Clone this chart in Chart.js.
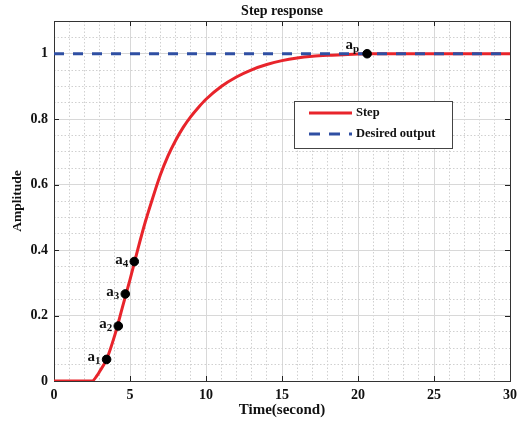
<!DOCTYPE html>
<html>
<head>
<meta charset="utf-8">
<script src="https://cdn.jsdelivr.net/npm/chart.js@4/dist/chart.umd.min.js"></script>
<style>
  html, body { margin: 0; padding: 0; background: #fff; }
  #wrap { width: 523px; height: 425px; position: relative; }
</style>
</head>
<body>
<div id="wrap"><canvas id="c" width="523" height="425"></canvas></div>
<script>
// ---- data ----
const stepTime = [0, 2.5, 2.85, 3.0, 3.46, 4.0, 4.5, 5.0, 5.5, 6.0, 6.5, 7.0, 7.5, 8.0, 8.5, 9.0, 9.5, 10, 11, 12, 13, 14, 15, 16, 17, 18, 19, 20, 20.6, 25, 30];
const stepAmp  = [0, 0, 0.018, 0.029, 0.066, 0.14, 0.225, 0.31, 0.4, 0.485, 0.56, 0.63, 0.688, 0.735, 0.775, 0.808, 0.836, 0.861, 0.9, 0.929, 0.951, 0.967, 0.979, 0.987, 0.992, 0.995, 0.997, 0.999, 1, 1, 1];
const desiredTime = [0, 30];
const desiredAmp  = [1, 1];
const markerTime = [3.46, 4.23, 4.69, 5.28, 20.6];
const markerAmp  = [0.066, 0.168, 0.266, 0.365, 1.0];
const markerSub  = ['1', '2', '3', '4', 'p'];
const xTickLabels = [0, 5, 10, 15, 20, 25, 30];
const yTickLabels = [0, 0.2, 0.4, 0.6, 0.8, 1];
const legendNames = ['Step', 'Desired output'];

const RED = '#e8242b';
const BLUE = '#2f4fa3';
const SERIF = '"Liberation Serif", "Times New Roman", serif';

const zip = (xs, ys) => xs.map((x, i) => ({ x, y: ys[i] }));
const isXMajor = v => xTickLabels.some(t => Math.abs(t - v) < 1e-6);
const isYMajor = v => yTickLabels.some(t => Math.abs(t - v) < 1e-6);

const framePlugin = {
  id: 'frame',
  beforeDatasetsDraw(chart) {
    const { ctx, chartArea: a, scales } = chart;
    ctx.save();
    ctx.strokeStyle = '#222';
    ctx.lineWidth = 1;
    ctx.beginPath();
    xTickLabels.forEach(v => {
      const px = Math.round(scales.x.getPixelForValue(v)) + 0.5;
      ctx.moveTo(px, a.bottom); ctx.lineTo(px, a.bottom - 5);
      ctx.moveTo(px, a.top); ctx.lineTo(px, a.top + 5);
    });
    yTickLabels.forEach(v => {
      const py = Math.round(scales.y.getPixelForValue(v)) + 0.5;
      ctx.moveTo(a.left, py); ctx.lineTo(a.left + 5, py);
      ctx.moveTo(a.right, py); ctx.lineTo(a.right - 5, py);
    });
    ctx.stroke();
    ctx.strokeStyle = '#333';
    ctx.strokeRect(Math.round(a.left) + 0.5, Math.round(a.top) + 0.5, Math.round(a.right - a.left), Math.round(a.bottom - a.top));
    ctx.restore();
  },
  afterDatasetsDraw(chart) {
    const { ctx, chartArea: a } = chart;
    ctx.save();
    // title
    ctx.fillStyle = '#111';
    ctx.font = 'bold 14px ' + SERIF;
    ctx.textAlign = 'center';
    ctx.textBaseline = 'middle';
    ctx.fillText('Step response', (a.left + a.right) / 2, 11);

    // point labels
    const meta = chart.getDatasetMeta(0);
    meta.data.forEach((pt, i) => {
      const sub = markerSub[i];
      ctx.font = 'bold 15px ' + SERIF;
      const wa = ctx.measureText('a').width;
      ctx.font = 'bold 11px ' + SERIF;
      const ws = ctx.measureText(sub).width;
      let endX, base;
      if (sub === 'p') { endX = pt.x - 8; base = pt.y - 5; }
      else { endX = pt.x - 6; base = pt.y + 2; }
      const startX = endX - wa - ws;
      ctx.textAlign = 'left';
      ctx.textBaseline = 'alphabetic';
      ctx.font = 'bold 15px ' + SERIF;
      ctx.fillText('a', startX, base);
      ctx.font = 'bold 11px ' + SERIF;
      ctx.fillText(sub, startX + wa, base + 3);
    });

    // legend box
    const bx = a.left + 240, by = a.top + 80, bw = 158, bh = 47;
    ctx.fillStyle = '#fff';
    ctx.fillRect(bx, by, bw, bh);
    ctx.strokeStyle = '#444';
    ctx.lineWidth = 1;
    ctx.strokeRect(bx + 0.5, by + 0.5, bw, bh);
    ctx.lineWidth = 3;
    ctx.strokeStyle = RED;
    ctx.beginPath(); ctx.moveTo(bx + 15, by + 12); ctx.lineTo(bx + 58, by + 12); ctx.stroke();
    ctx.strokeStyle = BLUE;
    ctx.setLineDash([11, 9]);
    ctx.beginPath(); ctx.moveTo(bx + 15, by + 33); ctx.lineTo(bx + 58, by + 33); ctx.stroke();
    ctx.setLineDash([]);
    ctx.fillStyle = '#111';
    ctx.font = 'bold 12.5px ' + SERIF;
    ctx.textAlign = 'left';
    ctx.textBaseline = 'middle';
    ctx.fillText(legendNames[0], bx + 62, by + 12);
    ctx.fillText(legendNames[1], bx + 62, by + 33);
    ctx.restore();
  }
};

new Chart(document.getElementById('c'), {
  type: 'scatter',
  data: {
    datasets: [
      {
        label: 'markers',
        data: zip(markerTime, markerAmp),
        showLine: false,
        pointRadius: 4.3,
        pointBackgroundColor: '#000',
        pointBorderColor: '#000',
        order: 0
      },
      {
        label: legendNames[1],
        data: zip(desiredTime, desiredAmp),
        showLine: true,
        borderColor: BLUE,
        borderWidth: 3,
        borderDash: [10, 9],
        pointRadius: 0,
        order: 1
      },
      {
        label: legendNames[0],
        data: zip(stepTime, stepAmp),
        showLine: true,
        borderColor: RED,
        borderWidth: 3,
        cubicInterpolationMode: 'monotone',
        pointRadius: 0,
        order: 2
      }
    ]
  },
  options: {
    responsive: false,
    animation: false,
    devicePixelRatio: 1,
    layout: { padding: { top: 21, right: 13, left: 0, bottom: 0 } },
    plugins: {
      legend: { display: false },
      title: { display: false },
      tooltip: { enabled: false }
    },
    scales: {
      x: {
        type: 'linear',
        min: 0, max: 30,
        afterFit: s => { s.height = 44; },
        ticks: {
          stepSize: 1,
          autoSkip: false,
          maxRotation: 0,
          padding: 6,
          color: '#111',
          font: { family: SERIF, size: 14, weight: 'bold' },
          callback: v => isXMajor(v) ? String(v) : ''
        },
        grid: {
          drawTicks: false,
          color: c => (c.tick && isXMajor(c.tick.value)) ? '#d8d8d8' : '#d0d0d0',
          lineWidth: 1
        },
        border: {
          display: false,
          dash: c => (c.tick && isXMajor(c.tick.value)) ? [] : [1.5, 2]
        },
        title: {
          display: true,
          text: 'Time(second)',
          color: '#111',
          font: { family: SERIF, size: 15, weight: 'bold' },
          padding: { top: 0, bottom: 5.5 }
        }
      },
      y: {
        type: 'linear',
        min: 0, max: 1.1,
        afterFit: s => { s.width = 54; },
        afterBuildTicks: s => {
          const t = [];
          for (let i = 0; i <= 22; i++) t.push({ value: Math.round(i * 5) / 100 });
          s.ticks = t;
        },
        ticks: {
          autoSkip: false,
          padding: 6,
          color: '#111',
          font: { family: SERIF, size: 14, weight: 'bold' },
          callback: v => isYMajor(v) ? String(v) : ''
        },
        grid: {
          drawTicks: false,
          color: c => (c.tick && isYMajor(c.tick.value)) ? '#d8d8d8' : '#d0d0d0',
          lineWidth: 1
        },
        border: {
          display: false,
          dash: c => (c.tick && isYMajor(c.tick.value)) ? [] : [1.5, 2]
        },
        title: {
          display: true,
          text: 'Amplitude',
          color: '#111',
          font: { family: SERIF, size: 13.5, weight: 'bold' },
          padding: { top: 9.5, bottom: 0 }
        }
      }
    }
  },
  plugins: [framePlugin]
});
</script>
</body>
</html>
